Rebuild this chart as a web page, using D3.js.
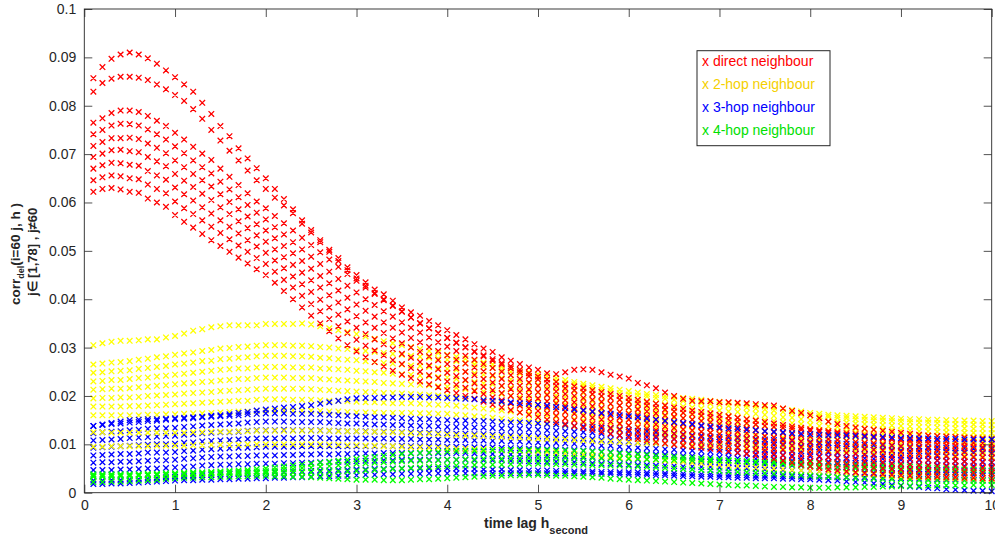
<!DOCTYPE html>
<html>
<head>
<meta charset="utf-8">
<script src="https://cdn.jsdelivr.net/npm/d3@7"></script>
<style>
  body { margin: 0; background: #fff; }
  svg { display: block; }
  text { font-family: "Liberation Sans", Arial, sans-serif; }
</style>
</head>
<body>
<svg width="995" height="542"></svg>
<script>
// time lag h (seconds)
const lags = [
  0.1,0.2,0.3,0.4,0.5,0.6,0.7,0.8,0.9,1.0,1.1,1.2,1.3,1.4,1.5,1.6,1.7,1.8,1.9,2.0,
  2.1,2.2,2.3,2.4,2.5,2.6,2.7,2.8,2.9,3.0,3.1,3.2,3.3,3.4,3.5,3.6,3.7,3.8,3.9,4.0,
  4.1,4.2,4.3,4.4,4.5,4.6,4.7,4.8,4.9,5.0,5.1,5.2,5.3,5.4,5.5,5.6,5.7,5.8,5.9,6.0,
  6.1,6.2,6.3,6.4,6.5,6.6,6.7,6.8,6.9,7.0,7.1,7.2,7.3,7.4,7.5,7.6,7.7,7.8,7.9,8.0,
  8.1,8.2,8.3,8.4,8.5,8.6,8.7,8.8,8.9,9.0,9.1,9.2,9.3,9.4,9.5,9.6,9.7,9.8,9.9,10.0
];
const xTicks = [0,1,2,3,4,5,6,7,8,9,10];
const yTicks = [0,0.01,0.02,0.03,0.04,0.05,0.06,0.07,0.08,0.09,0.1];
const yTickLabels = ["0","0.01","0.02","0.03","0.04","0.05","0.06","0.07","0.08","0.09","0.1"];
const legendLabels = ["x direct neighbour","x 2-hop neighbour","x 3-hop neighbour","x 4-hop neighbour"];

// correlation values, in units of 1e-4, one array per neighbour j
const unit = 1e-4;

const directNeighbour = [
  [857,880,897,906,910,906,898,887,873,859, 844,829,806,783,758,737,712,691,671,650,
   628,607,586,563,543,522,502,485,466,450, 435,420,410,397,383,373,366,355,346,336,
   326,317,307,298,291,280,273,266,259,254, 247,245,249,254,255,254,249,244,240,236,
   227,222,216,207,200,194,190,189,189,187, 187,186,185,183,181,180,174,169,165,160,
   154,147,142,138,135,132,130,128,126,124, 122,120,118,117,116,115,114,113,112,111],
  [829,847,856,860,860,858,853,844,834,822, 810,793,773,750,728,707,687,666,646,628,
   610,594,578,556,538,518,498,479,460,443, 428,413,400,387,375,362,350,340,330,320,
   310,301,292,284,276,268,261,254,247,240, 234,229,224,220,216,212,208,204,200,196,
   192,188,184,180,176,173,170,167,164,161, 158,155,152,149,146,143,140,137,134,131,
   129,127,125,123,121,119,117,115,113,111, 110,109,108,107,106,105,104,103,102,101],
  [765,774,785,790,790,787,779,769,758,744, 730,715,701,688,670,653,636,619,602,588,
   572,557,542,527,512,497,482,467,452,438, 424,411,398,386,374,362,351,340,330,320,
   310,300,291,282,273,265,257,249,241,234, 227,221,216,212,208,204,200,196,192,188,
   184,180,176,172,168,165,162,159,156,153, 150,147,144,141,138,136,134,132,130,128,
   126,124,122,120,118,116,114,112,110,108, 106,104,102,100,98,97,96,95,94,93],
  [741,750,759,763,762,759,751,741,730,716, 702,687,673,660,643,627,611,595,579,565,
   549,534,518,503,488,473,457,442,428,414, 400,388,375,364,352,341,331,321,311,302,
   293,283,275,266,258,250,243,235,228,221, 214,209,204,200,196,192,188,184,180,176,
   172,168,164,160,157,154,151,148,145,142, 139,136,133,130,127,125,123,120,118,116,
   114,111,109,107,105,103,102,100,98,96, 94,92,91,89,87,86,85,84,83,83],
  [717,725,733,733,734,731,722,713,702,687, 673,659,646,633,617,601,586,571,555,542,
   526,510,495,479,463,448,433,418,403,389, 376,364,352,341,331,320,311,301,293,284,
   275,267,259,251,243,235,228,221,214,208, 202,196,191,187,183,179,175,171,167,163,
   160,156,152,149,145,142,140,137,134,132, 129,126,123,120,117,114,111,109,106,103,
   101,99,97,95,93,91,89,87,86,84, 82,81,79,78,76,75,74,74,73,72],
  [694,701,708,709,706,704,694,685,675,659, 645,632,618,605,590,576,561,547,532,519,
   503,487,471,455,439,424,408,393,379,365, 352,341,330,319,309,300,291,282,274,266,
   258,250,243,235,228,221,214,208,201,195, 189,184,179,175,171,167,163,159,155,151,
   148,144,141,137,134,131,129,126,124,121, 118,115,112,109,106,103,100,97,94,91,
   89,86,84,82,80,78,77,75,74,72, 71,69,68,67,65,65,64,63,62,62],
  [670,677,682,681,678,676,665,656,647,631, 617,604,590,577,563,550,536,522,509,496,
   480,464,447,431,415,399,383,368,354,341, 328,317,307,297,287,279,270,263,255,248,
   241,233,226,219,212,206,200,194,188,182, 176,171,167,163,159,155,151,147,143,139,
   135,132,129,125,122,120,117,115,113,110, 107,104,101,98,95,92,89,85,82,79,
   76,73,71,69,67,65,64,63,61,60, 59,57,56,55,54,54,53,52,51,51],
  [646,652,656,654,650,648,637,628,619,602, 588,576,563,550,537,524,511,498,485,473,
   457,440,424,407,390,375,359,344,330,316, 304,294,284,274,266,258,250,243,237,230,
   223,217,210,204,197,191,185,180,174,169, 164,159,154,150,146,142,138,134,130,126,
   123,120,117,114,111,108,106,104,102,100, 97,94,91,88,85,81,77,74,70,66,
   64,61,59,57,55,53,52,50,49,48, 47,46,45,44,43,43,42,42,41,41],
  [622,628,630,627,622,620,608,600,591,574, 560,548,535,522,510,498,486,474,462,450,
   434,417,400,383,366,350,334,319,305,292, 280,270,261,252,244,237,230,224,218,212,
   206,200,194,188,182,176,171,166,161,156, 151,146,142,138,134,130,126,122,118,114,
   111,108,105,102,99,97,95,93,91,89, 86,83,80,77,74,70,66,62,58,54,
   51,48,46,44,42,40,39,38,37,36, 35,34,33,33,32,32,31,31,30,30]
];

const twoHop = [
  [305,309,312,314,314,315,317,317,321,324, 329,335,338,342,344,346,346,346,346,349,
   349,349,349,350,348,344,340,336,332,328, 323,318,313,309,305,301,297,293,289,285,
   281,277,273,269,265,261,257,253,249,245, 241,237,233,229,225,222,219,216,213,210,
   207,204,202,200,198,196,194,192,190,188, 186,184,182,180,178,176,174,171,168,165,
   163,161,160,159,158,157,156,155,154,153, 152,152,151,151,150,150,149,149,148,148],
  [265,267,269,270,272,275,277,280,282,285, 288,290,293,295,298,299,301,302,304,305,
   305,305,304,304,303,301,300,298,297,295, 293,291,289,287,285,283,281,279,277,275,
   272,268,265,261,258,254,250,246,242,238, 234,231,227,224,220,217,213,210,206,203,
   201,199,196,194,192,190,188,186,184,182, 180,178,176,174,172,170,167,165,162,160,
   158,157,155,154,152,151,150,149,148,147, 146,145,145,144,143,142,142,141,141,140],
  [248,249,251,252,253,256,258,260,262,265, 267,269,272,273,276,277,279,280,282,283,
   283,283,282,282,281,279,278,276,275,274, 272,270,268,267,265,263,262,260,258,256,
   254,250,247,244,241,237,234,230,226,223, 219,216,212,210,206,203,199,197,193,190,
   188,186,184,182,180,178,176,174,172,170, 168,167,165,163,161,159,156,155,152,150,
   148,147,146,145,143,142,141,140,139,138, 137,136,136,135,134,133,133,132,132,131],
  [230,231,233,233,235,237,238,240,242,244, 246,248,250,252,254,255,257,257,259,260,
   260,260,259,259,259,257,256,255,254,252, 251,249,248,246,245,244,242,241,239,238,
   235,232,229,226,224,220,217,214,211,207, 204,201,198,195,192,189,186,183,180,177,
   175,174,171,169,167,166,164,162,160,158, 157,155,153,151,150,148,146,144,142,140,
   138,137,136,135,133,132,131,131,130,129, 128,127,127,126,125,125,124,124,123,123],
  [213,214,215,215,216,218,219,221,222,224, 226,227,229,230,232,233,235,235,237,238,
   238,238,237,237,237,235,234,233,232,231, 230,229,227,226,225,224,223,222,220,219,
   217,214,212,209,207,204,201,198,195,192, 189,187,183,181,178,175,172,170,167,165,
   163,161,159,157,155,154,152,150,148,147, 145,144,142,140,139,137,135,134,132,130,
   129,128,127,126,124,123,122,122,121,120, 119,118,118,117,117,116,116,115,115,114],
  [195,196,196,197,197,198,200,201,202,203, 205,206,207,208,210,211,212,213,214,215,
   215,215,215,215,214,213,212,211,210,209, 208,208,206,206,205,204,203,202,201,200,
   198,196,194,192,189,187,184,182,179,177, 174,172,168,166,163,161,158,157,154,152,
   150,148,146,145,143,141,139,138,136,135, 133,132,130,129,127,126,124,123,121,120,
   119,118,117,116,115,114,113,112,111,110, 110,109,109,108,108,107,107,106,106,105],
  [178,178,178,178,179,179,180,181,182,183, 184,185,186,187,188,189,190,190,192,193,
   193,193,192,192,192,191,190,190,189,188, 187,187,186,185,185,185,184,183,182,182,
   180,178,176,174,172,170,168,166,164,161, 159,157,154,152,149,147,145,143,141,139,
   137,136,134,132,130,129,127,126,124,123, 122,121,119,117,116,115,114,113,111,110,
   109,108,108,107,105,104,103,103,102,101, 101,100,100,99,99,99,98,98,97,97],
  [160,160,160,160,160,160,161,161,162,162, 163,164,164,165,166,167,168,168,169,170,
   170,170,170,170,170,169,168,168,167,166, 166,166,165,165,165,165,164,164,163,163,
   161,160,158,157,155,153,151,150,148,146, 144,142,139,137,135,133,131,130,128,126,
   124,123,121,120,118,117,115,114,112,111, 110,109,107,106,105,104,103,102,101,100,
   99,98,98,97,96,95,94,94,93,92, 92,91,91,90,90,90,89,89,88,88],
  [125,125,124,124,124,124,124,124,124,124, 124,125,125,126,126,126,127,127,128,128,
   128,128,128,128,128,128,128,127,127,127, 126,126,125,125,124,123,122,122,121,120,
   119,118,118,117,116,115,114,114,113,112, 111,110,110,109,108,107,106,106,105,104,
   103,102,102,101,100,99,98,98,97,96, 95,95,94,93,93,92,92,91,90,90,
   89,88,88,87,86,85,84,84,83,82, 81,80,80,79,78,77,77,76,76,75],
  [95,95,96,96,96,96,96,97,97,97, 97,98,98,99,99,99,99,100,100,100,
   100,100,100,100,100,100,99,99,98,98, 97,97,96,96,95,94,94,93,93,92,
   91,91,90,90,89,88,87,87,86,85, 84,83,81,80,79,78,76,75,73,72,
   71,69,68,66,65,64,62,61,59,58, 57,55,54,52,51,50,49,47,46,45,
   44,43,41,40,39,38,37,35,34,33, 32,32,31,31,30,30,29,29,28,28]
];

const threeHop = [
  [138,141,144,147,150,151,152,152,153,154, 155,156,157,159,160,162,165,167,170,172,
   174,176,177,179,181,184,187,190,193,195, 196,196,197,197,198,198,198,197,197,196,
   195,194,193,191,190,188,187,185,184,182, 180,177,175,172,170,168,165,163,160,158,
   156,153,151,148,146,144,142,139,137,135, 133,132,130,129,127,126,125,123,122,121,
   120,119,119,118,117,116,115,115,114,113, 113,112,112,111,111,111,110,110,110,110],
  [138,140,142,143,145,146,148,149,151,152, 153,154,156,157,158,159,160,162,163,164,
   164,164,163,163,163,162,161,160,159,158, 157,156,156,155,154,153,152,152,151,150,
   149,149,148,148,147,146,145,145,144,143, 142,141,140,138,137,136,134,133,131,130,
   128,127,125,124,122,121,119,118,116,115, 114,113,112,111,110,109,108,107,106,105,
   104,103,102,101,100,99,98,98,97,96, 95,95,94,94,93,92,92,91,91,90],
  [123,125,126,127,129,130,132,133,133,134, 136,137,139,140,141,142,143,145,146,147,
   147,147,146,146,146,146,145,144,143,143, 142,141,141,140,140,139,138,138,137,136,
   136,136,135,135,134,133,132,132,131,130, 129,128,127,126,125,124,122,121,119,118,
   116,115,114,113,111,110,108,107,106,105, 104,103,102,101,100,99,98,97,96,95,
   94,93,92,91,90,90,89,89,88,87, 86,86,85,85,84,83,83,82,82,81],
  [108,109,110,111,113,114,115,116,117,118, 120,121,123,124,125,125,126,128,129,129,
   129,130,129,129,129,129,128,128,127,127, 127,126,126,126,125,125,124,124,123,123,
   122,122,121,121,120,120,119,119,118,117, 116,115,114,113,112,111,109,109,107,106,
   104,104,102,101,100,99,97,96,95,94, 93,92,91,90,89,88,88,87,86,85,
   84,83,82,82,81,80,79,79,78,77, 77,76,76,75,75,74,74,73,73,72],
  [93,94,95,96,97,98,99,100,100,101, 103,104,106,107,108,109,110,111,112,112,
   112,113,112,113,113,113,112,112,112,112, 112,111,112,111,111,111,110,110,110,109,
   109,109,108,108,107,107,106,106,105,104, 103,103,102,101,100,99,97,97,95,94,
   93,92,91,90,89,88,87,86,85,84, 83,82,81,80,79,78,78,77,76,75,
   74,74,73,72,71,71,70,70,69,68, 68,67,67,66,66,65,65,64,64,63],
  [77,78,79,80,80,81,83,83,83,84, 86,87,89,90,91,92,93,93,94,95,
   95,95,95,96,96,96,96,96,96,96, 96,96,97,96,97,96,96,96,96,95,
   95,95,94,94,94,93,92,92,91,91, 90,90,89,88,87,86,85,84,83,82,
   81,80,79,79,77,76,76,75,74,73, 72,71,71,70,69,68,67,66,66,65,
   64,64,63,62,61,61,60,60,59,59, 58,58,57,57,56,56,55,55,54,54],
  [62,63,63,64,64,65,66,67,67,68, 70,71,73,74,75,75,76,76,77,77,
   77,78,78,79,79,80,79,80,80,81, 81,81,82,82,82,82,82,82,82,82,
   82,82,81,81,80,80,79,79,78,78, 77,77,76,76,75,74,72,72,71,70,
   69,69,68,67,66,65,65,64,64,63, 62,61,60,59,58,57,57,56,56,55,
   54,54,53,53,52,52,51,51,50,49, 49,48,48,47,47,47,46,46,45,45],
  [47,47,47,48,48,49,50,50,51,52, 53,54,56,57,58,58,59,59,60,60,
   60,61,61,62,62,63,63,64,64,65, 66,66,67,67,68,68,68,68,68,68,
   68,68,67,67,67,67,66,66,65,65, 64,64,63,63,62,61,60,60,59,58,
   57,57,56,56,55,54,54,53,53,52, 51,50,50,49,48,47,47,46,46,45,
   44,44,43,43,42,42,41,41,40,40, 40,39,39,38,38,38,37,37,36,36],
  [25,25,26,26,27,28,29,30,32,33, 34,35,36,37,38,39,40,40,41,42,
   43,43,44,44,45,46,46,47,47,48, 48,49,49,50,50,50,50,50,50,50,
   50,49,49,48,48,48,47,47,46,46, 46,45,45,44,44,44,43,43,42,42,
   42,41,41,40,40,39,39,38,38,37, 37,36,36,35,35,35,34,34,33,33,
   33,33,32,32,32,32,31,31,30,30, 30,29,29,28,28,28,27,27,26,26],
  [18,18,19,19,20,21,22,23,24,25, 26,26,27,27,28,28,29,29,30,30,
   31,31,32,32,33,34,34,35,35,36, 37,37,38,38,39,39,39,40,40,40,
   40,40,40,40,40,40,40,40,40,40, 40,40,40,40,40,40,39,39,38,38,
   37,37,36,36,35,34,34,33,33,32, 32,31,31,30,30,30,29,29,28,28,
   27,26,25,23,22,21,19,18,16,15, 13,12,10,9,7,6,5,4,4,3]
];

const fourHop = [
  [22,22,23,23,24,25,26,27,29,30, 31,31,32,32,33,33,34,34,35,35,
   34,34,33,33,32,31,30,29,28,27, 27,27,26,26,26,27,28,28,29,30,
   31,32,33,34,35,35,36,36,37,37, 36,35,35,34,33,32,31,29,28,27,
   26,25,24,23,22,21,20,19,18,17, 16,15,15,14,13,12,12,11,11,10,
   10,10,11,11,11,12,12,13,13,14, 14,14,15,15,15,15,15,16,16,16],
  [35,35,36,36,36,36,36,37,37,37, 38,38,39,39,40,40,40,41,41,41,
   41,41,42,42,42,43,43,44,44,45, 46,47,48,49,50,51,52,53,54,55,
   56,56,57,57,58,58,59,59,60,60, 60,59,59,58,58,57,57,56,56,55,
   54,53,52,51,50,49,48,47,46,45, 44,43,42,41,40,39,38,37,36,35,
   34,33,32,31,30,29,29,28,28,27, 27,26,26,25,25,25,25,24,24,24],
  [38,38,38,38,38,38,39,39,40,40, 41,42,42,43,44,45,46,47,49,50,
   52,54,56,58,60,62,64,66,68,70, 72,74,76,78,80,81,82,83,84,85,
   86,86,87,87,88,88,88,88,88,88, 88,87,87,86,86,85,84,83,81,80,
   79,78,76,75,74,73,72,70,69,68, 67,66,64,63,62,61,60,58,57,56,
   55,54,52,51,50,49,48,47,46,45, 44,44,43,43,42,42,41,41,40,40],
  [33,33,33,34,34,35,36,36,37,38, 39,40,40,41,42,43,43,44,44,45,
   46,48,49,51,52,54,55,57,58,60, 61,62,63,64,65,66,66,67,67,68,
   68,69,69,70,70,70,71,71,72,72, 72,72,72,72,72,72,71,71,70,70,
   70,69,69,68,68,68,67,67,66,66, 66,65,65,64,64,64,63,63,62,62,
   61,60,60,59,58,57,57,56,55,55, 54,53,52,51,50,49,48,48,47,46]
];

const colors = { red: "#ff0000", yellow: "#ffff00", blue: "#0000ff", green: "#00ff00" };
const legendColors = ["#ff0000", "#f5d000", "#0000ff", "#00e000"];

// which curves are drawn when (later ones on top)
const layers = [
  { series: twoHop, idx: [0,1,2,3,4,5,6,7], color: colors.yellow },
  { series: threeHop, idx: [1,2,3,4,5,6,7,8,9], color: colors.blue },
  { series: twoHop, idx: [8,9], color: colors.yellow },
  { series: fourHop, idx: [0,1,2,3], color: colors.green },
  { series: directNeighbour, idx: [8,7,6,5,4,3,2,1,0], color: colors.red },
  { series: threeHop, idx: [0], color: colors.blue }
];

const svg = d3.select("svg");
const axisColor = "#262626";
const plot = { left: 84.3, right: 991.7, top: 9, bottom: 492.7 };

const x = d3.scaleLinear().domain([0, 10]).range([plot.left, plot.right]);
const y = d3.scaleLinear().domain([0, 0.1]).range([plot.bottom, plot.top]);

// markers
const s = 2.8;
function crossPath(vals) {
  let p = "";
  vals.forEach((v, i) => {
    const cx = x(lags[i]), cy = y(v * unit);
    p += `M${cx - s},${cy - s}L${cx + s},${cy + s}M${cx - s},${cy + s}L${cx + s},${cy - s}`;
  });
  return p;
}

const marks = svg.append("g");
layers.forEach(layer => {
  layer.idx.forEach(k => {
    marks.append("path")
      .attr("d", crossPath(layer.series[k]))
      .attr("fill", "none")
      .attr("stroke", layer.color)
      .attr("stroke-width", 1.3);
  });
});

// axes (ticks inward, mirrored on top/right)
function styleAxis(g) {
  g.select(".domain").remove();
  g.selectAll(".tick line").attr("stroke", axisColor).attr("stroke-width", 0.8);
  g.selectAll(".tick text").attr("fill", axisColor).style("font-size", "14px");
}

svg.append("g")
  .attr("transform", `translate(0,${plot.bottom})`)
  .call(d3.axisBottom(x).tickValues(xTicks).tickFormat(d => String(d)).tickSizeInner(-8).tickSizeOuter(0).tickPadding(7))
  .call(styleAxis);

svg.append("g")
  .attr("transform", `translate(0,${plot.top})`)
  .call(d3.axisTop(x).tickValues(xTicks).tickFormat("").tickSizeInner(-8).tickSizeOuter(0))
  .call(styleAxis);

svg.append("g")
  .attr("transform", `translate(${plot.left},0)`)
  .call(d3.axisLeft(y).tickValues(yTicks).tickFormat((d, i) => yTickLabels[i]).tickSizeInner(-8).tickSizeOuter(0).tickPadding(8))
  .call(styleAxis);

svg.append("g")
  .attr("transform", `translate(${plot.right},0)`)
  .call(d3.axisRight(y).tickValues(yTicks).tickFormat("").tickSizeInner(-8).tickSizeOuter(0))
  .call(styleAxis);

svg.append("rect")
  .attr("x", plot.left).attr("y", plot.top)
  .attr("width", plot.right - plot.left).attr("height", plot.bottom - plot.top)
  .attr("fill", "none").attr("stroke", axisColor).attr("stroke-width", 0.9);

// x label
const xl = svg.append("text")
  .attr("x", 484).attr("y", 527.5)
  .attr("fill", axisColor)
  .style("font-weight", "bold").style("font-size", "14px");
xl.append("tspan").text("time lag h");
xl.append("tspan").attr("dy", 6).style("font-size", "11px").text("second");

// y label (two lines, rotated)
const yl = svg.append("text")
  .attr("transform", "translate(20,254) rotate(-90)")
  .attr("text-anchor", "middle")
  .attr("fill", axisColor)
  .style("font-weight", "bold").style("font-size", "13.5px");
yl.append("tspan").text("corr");
yl.append("tspan").attr("dy", 4).style("font-size", "9px").text("del");
yl.append("tspan").attr("dy", -4).text("(i=60 j, h )");

svg.append("text")
  .attr("transform", "translate(37,252) rotate(-90)")
  .attr("text-anchor", "middle")
  .attr("fill", axisColor)
  .style("font-weight", "bold").style("font-size", "13px")
  .text("j\u2208 [1,78] , j\u226060");

// legend
const lg = svg.append("g");
lg.append("rect")
  .attr("x", 697).attr("y", 50.7).attr("width", 133).attr("height", 95)
  .attr("fill", "#fff").attr("stroke", axisColor).attr("stroke-width", 1);
legendLabels.forEach((t, i) => {
  lg.append("text")
    .attr("x", 702).attr("y", 66 + i * 23)
    .attr("fill", legendColors[i])
    .style("font-size", "14px")
    .text(t);
});
</script>
</body>
</html>
